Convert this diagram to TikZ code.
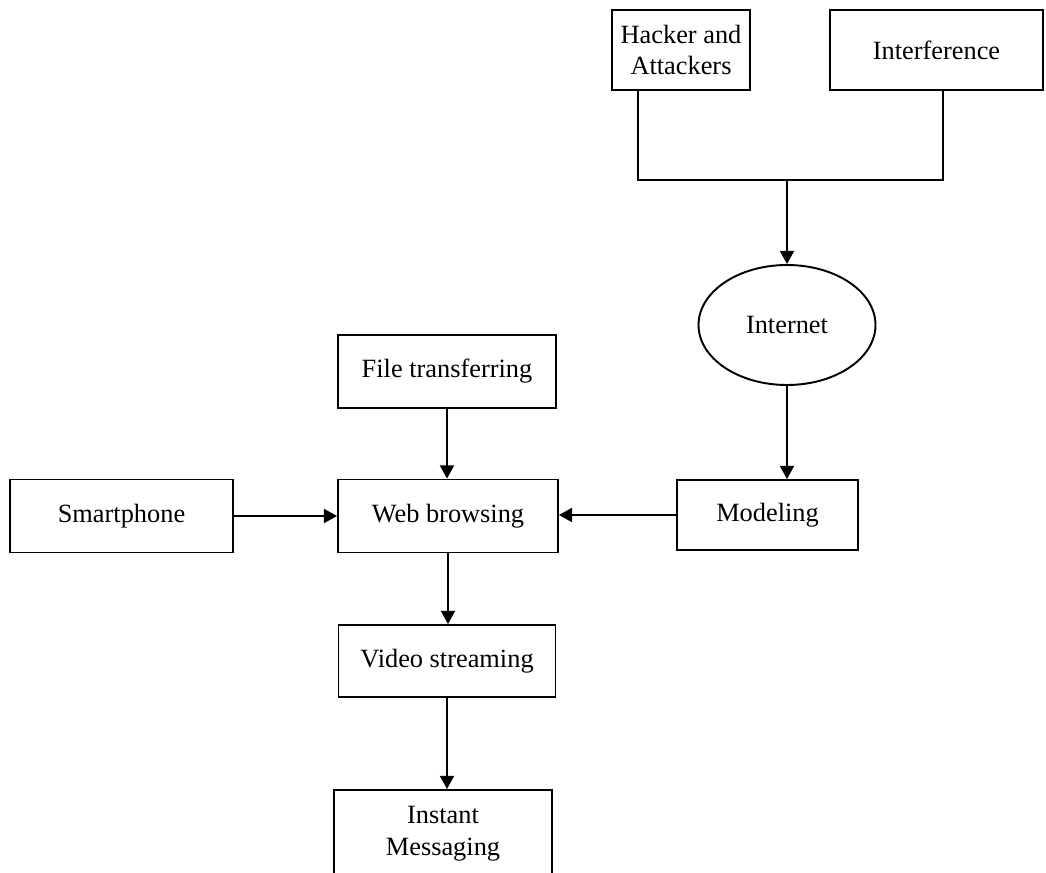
\documentclass[tikz,border=0pt]{standalone}
\usepackage{fontspec}
\setmainfont{Liberation Serif}
\usetikzlibrary{arrows.meta,shapes.geometric}
\tikzset{>={Triangle[length=7.5pt,width=8pt]}}
\tikzset{
  box/.style={draw,line width=1.1pt,align=center,inner sep=0pt,
    font=\fontsize{15}{18}\selectfont},
  oval/.style={box,ellipse},
  link/.style={line width=1.1pt}
}
\begin{document}
\begin{tikzpicture}
\useasboundingbox (0,0) rectangle (20.92,17.46);
\clip (0,0) rectangle (20.92,17.46);
% sources of trouble
\node[box,minimum width=2.76cm,minimum height=1.6cm] (hack) at (13.62,16.46) {Hacker and\\Attackers};
\node[box,minimum width=4.26cm,minimum height=1.6cm] (interf) at (18.73,16.46) {Interference};
\coordinate (hleg) at (12.76,13.86);
\coordinate (ileg) at (18.86,13.86);
\coordinate (join) at (15.74,13.86);
\node[oval,minimum width=3.54cm,minimum height=2.4cm] (inet) at (15.74,10.96) {Internet};
% services
\node[box,minimum width=3.62cm,minimum height=1.4cm] (model) at (15.35,7.16) {Modeling};
\node[box,minimum width=4.36cm,minimum height=1.46cm] (file) at (8.94,10.03) {File transferring};
\node[box,minimum width=4.4cm,minimum height=1.46cm] (web) at (8.96,7.14) {Web browsing};
\node[box,minimum width=4.46cm,minimum height=1.46cm] (smart) at (2.43,7.14) {Smartphone};
\node[box,minimum width=4.34cm,minimum height=1.44cm] (video) at (8.94,4.24) {Video streaming};
\node[box,minimum width=4.36cm,minimum height=1.76cm] (msg) at (8.86,0.78) {Instant\\Messaging};
% connectors
\draw[link] (hack.south -| hleg) -- (hleg) -- (ileg) -- (ileg |- interf.south);
\draw[link,->] (join) -- (inet.north);
\draw[link,->] (inet.south) -- (inet.south |- model.north);
\draw[link,->] (model.west) -- (model.west -| web.east);
\draw[link,->] (file.south) -- (file.south |- web.north);
\draw[link,->] (smart.east) -- (smart.east -| web.west);
\draw[link,->] (web.south) -- (web.south |- video.north);
\draw[link,->] (video.south) -- (video.south |- msg.north);
\end{tikzpicture}
\end{document}
